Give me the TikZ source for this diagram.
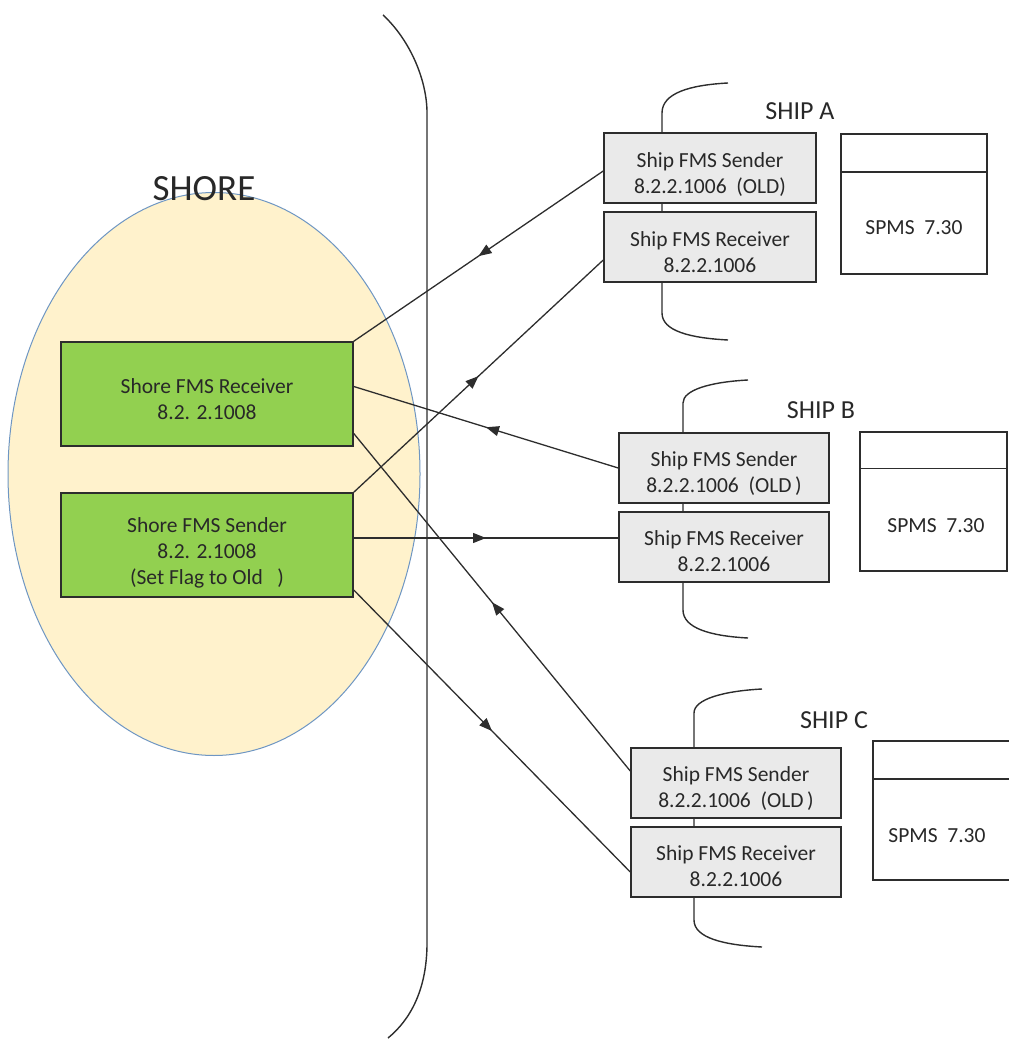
\documentclass[tikz,border=0pt]{standalone}
\usepackage{fontspec}
\setmainfont{Carlito}
\usetikzlibrary{arrows.meta,decorations.markings,shapes.geometric}
\definecolor{shorefill}{RGB}{255,242,204}
\definecolor{shoreline}{RGB}{110,150,195}
\definecolor{greenbox}{RGB}{146,208,80}
\definecolor{shipbox}{RGB}{234,234,234}
\definecolor{edge}{RGB}{45,45,45}
\definecolor{txtc}{RGB}{40,40,40}
\tikzset{
  boxtxt/.style={font=\fontsize{21.5}{26}\selectfont, text=txtc, align=center},
  shorebox/.style={draw=edge, line width=1.5pt, fill=greenbox, minimum width=292pt, minimum height=104pt, inner sep=0pt},
  shipboxst/.style={draw=edge, line width=1.5pt, fill=shipbox, minimum height=70pt, inner sep=0pt},
  spmsbox/.style={draw=edge, line width=1.5pt, fill=white, inner sep=0pt},
  shiplabel/.style={font=\fontsize{26}{30}\selectfont, text=txtc},
  conn/.style={draw=edge, line width=1.3pt, postaction={decorate},
    decoration={markings, mark=at position 0.5 with {\arrow{Triangle[length=13pt,width=10pt]}}}},
  brace/.style={draw=edge, line width=1.4pt},
}
\begin{document}
\begin{tikzpicture}[x=1pt,y=-1pt]
\useasboundingbox (0,0) rectangle (1008,1040);
% shore ellipse
\node[draw=shoreline, line width=1pt, fill=shorefill, ellipse, minimum width=412pt, minimum height=563pt, inner sep=0pt] (shore) at (214,474) {};
\node[font=\fontsize{37}{40}\selectfont, text=txtc] (shorelbl) at (204,189) {SHORE};
% big bracket
\draw[brace] (383,15) .. controls (410,40) and (427,80) .. (427,113) -- (427,943) .. controls (427,990) and (410,1020) .. (388,1038);
% ship brackets
\draw[brace] (728,83) .. controls (690,85) and (662,93) .. (662,113) -- (662,313) .. controls (662,331) and (690,338) .. (728,340);
\draw[brace] (748,380) .. controls (710,382) and (683,390) .. (683,403) -- (683,610) .. controls (683,628) and (710,636) .. (748,638);
\draw[brace] (762,689) .. controls (724,691) and (694,699) .. (694,713) -- (694,920) .. controls (694,938) and (724,945) .. (762,947);
% shore boxes
\node[shorebox] (sr) at (207,394) {};
\node[boxtxt] (srt) at ([yshift=-5pt]sr.center) {Shore FMS Receiver\\8.2. 2.1008};
\node[shorebox] (ss) at (207,545) {};
\node[boxtxt] (sst) at ([yshift=-8pt]ss.center) {Shore FMS Sender\\8.2. 2.1008\\(Set Flag to Old\ \ \ )};
% ship A
\node[shipboxst, minimum width=212pt] (as) at (710,168) {};
\node[boxtxt] (ast) at ([yshift=-7pt]as.center) {Ship FMS Sender\\8.2.2.1006\ \ (OLD)};
\node[shipboxst, minimum width=212pt] (ar) at (710,247) {};
\node[boxtxt] (art) at ([yshift=-5pt]ar.center) {Ship FMS Receiver\\8.2.2.1006};
\node[shiplabel] (alab) at (800,111) {SHIP A};
\node[spmsbox, minimum width=146pt, minimum height=140pt] (ap) at (914,204) {};
\draw[edge, line width=1.5pt] ([yshift=-39pt]ap.north west) -- ([yshift=-39pt]ap.north east);
\node[boxtxt] (apt) at (914,228) {SPMS\ \ 7.30};
% ship B
\node[shipboxst, minimum width=210pt] (bs) at (724,468) {};
\node[boxtxt] (bst) at ([yshift=-6pt]bs.center) {Ship FMS Sender\\8.2.2.1006\ \ (OLD\,)};
\node[shipboxst, minimum width=210pt] (br) at (724,547) {};
\node[boxtxt] (brt) at ([yshift=-4pt]br.center) {Ship FMS Receiver\\8.2.2.1006};
\node[shiplabel] (blab) at (821,410) {SHIP B};
\node[spmsbox, minimum width=147pt, minimum height=139pt] (bp) at (933.5,501.5) {};
\draw[edge, line width=1.5pt] ([yshift=-37pt]bp.north west) -- ([yshift=-37pt]bp.north east);
\node[boxtxt] (bpt) at (936,526) {SPMS\ \ 7.30};
% ship C
\node[shipboxst, minimum width=210pt] (cs) at (736,783) {};
\node[boxtxt] (cst) at ([yshift=-6pt]cs.center) {Ship FMS Sender\\8.2.2.1006\ \ (OLD\,)};
\node[shipboxst, minimum width=210pt] (cr) at (736,862) {};
\node[boxtxt] (crt) at ([yshift=-4pt]cr.center) {Ship FMS Receiver\\8.2.2.1006};
\node[shiplabel] (clab) at (834,720) {SHIP C};
\coordinate (cptl) at (873,741);
\coordinate (cpml) at (873,779);
\coordinate (cpbl) at (873,880);
\fill[white] (cptl) rectangle (1012,880);
\draw[edge, line width=1.5pt] (1012,741) -- (cptl) -- (cpbl) -- (1012,880);
\draw[edge, line width=1.5pt] (cpml) -- (1012,779);
\node[boxtxt] (cpt) at (937,836) {SPMS\ \ 7.30};
% connectors
\draw[conn] ([yshift=-3pt]as.west) -- (sr.north east);
\draw[conn] (ss.north east) -- ([yshift=-13pt]ar.west);
\draw[conn] (bs.west) -- ([yshift=7.5pt]sr.east);
\draw[conn] ([yshift=7pt]ss.east) -- ([yshift=9pt]br.west);
\draw[conn] ([yshift=12pt]cs.west) -- ([yshift=-39.5pt]sr.east);
\draw[conn] ([yshift=-45pt]ss.east) -- ([yshift=-10pt]cr.west);
\end{tikzpicture}
\end{document}
